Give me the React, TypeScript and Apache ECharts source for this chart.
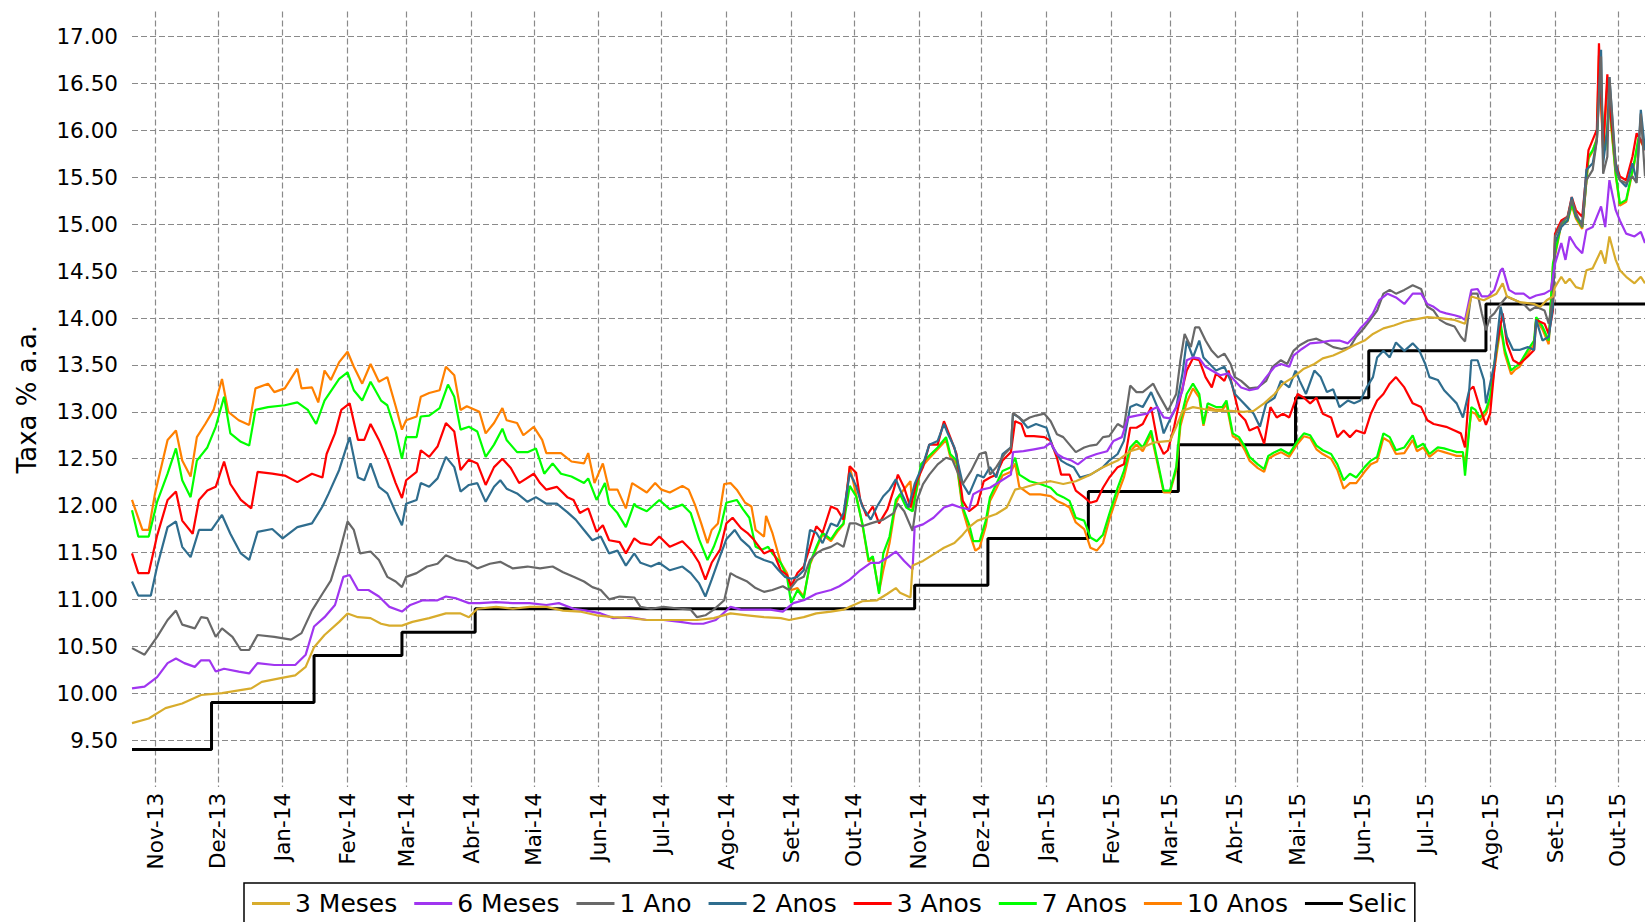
import React, { useEffect, useRef } from "react";
import * as echarts from "echarts";

// ---- Data (x = days since 2013-11-01, y = rate % a.a.) ----
type Pt = [number, number];

const seriesNames = ["3 Meses", "6 Meses", "1 Ano", "2 Anos", "3 Anos", "7 Anos", "10 Anos", "Selic"];
const monthNames = ["Jan", "Fev", "Mar", "Abr", "Mai", "Jun", "Jul", "Ago", "Set", "Out", "Nov", "Dez"];

const tenYears: Pt[] = [[-11,12.06],[-6,11.74],[-3,11.74],[0,12.13],[6,12.70],[10,12.80],[13,12.48],[17,12.31],[20,12.73],[24,12.87],[28,13.02],[32,13.35],[35,13.00],[40,12.91],[45,12.86],[48,13.25],[54,13.30],[57,13.21],[62,13.25],[68,13.46],[70,13.25],[75,13.26],[78,13.10],[81,13.44],[84,13.34],[88,13.53],[92,13.64],[95,13.48],[99,13.30],[103,13.51],[107,13.32],
[111,13.37],[115,13.06],[118,12.81],[120,12.91],[125,12.95],[127,13.16],[131,13.20],[136,13.23],[139,13.48],[143,13.39],[146,13.02],[149,13.06],[155,13.00],[158,12.77],[162,12.88],[166,13.04],[168,12.91],[173,12.88],[176,12.75],[181,12.84],[185,12.70],[187,12.56],[194,12.56],[199,12.47],[205,12.45],[207,12.56],[210,12.24],[214,12.45],[217,12.17],[221,12.17],[225,11.97],[228,12.24],
[235,12.14],[239,12.24],[242,12.17],[246,12.14],[252,12.21],[255,12.17],[258,12.01],[261,11.81],[264,11.60],[266,11.74],[269,11.81],[272,12.23],[275,12.24],[278,12.17],[282,12.03],[285,11.99],[287,11.74],[291,11.67],[292,11.89],[295,11.71],[299,11.39],[302,11.28],[304,11.10],[307,11.12],[310,11.03],[313,11.37],[316,11.54],[319,11.69],[323,11.62],[326,11.72],[329,11.80],[332,12.42],[335,12.12],[338,11.80],[341,11.40],[343,11.45],[346,11.08],[348,11.31],[351,11.60],[354,12.02],
[356,12.12],[361,12.26],[362,11.94],[366,12.40],[369,12.48],[374,12.60],[378,12.70],[380,12.52],[383,12.45],[386,11.95],[389,11.72],[392,11.52],[394,11.55],[397,11.78],[399,12.05],[402,12.18],[405,12.32],[409,12.36],[411,12.45],[413,12.20],[418,12.12],[423,12.12],[428,12.10],[431,12.05],[434,12.02],[437,11.98],[440,11.82],[444,11.75],[447,11.55],[450,11.52],[453,11.60],[456,11.85],[460,12.12],[463,12.30],[466,12.58],[469,12.65],[472,12.58],[476,12.76],
[479,12.45],[482,12.14],[485,12.14],[488,12.38],[490,12.85],[493,13.10],[496,13.25],[499,13.15],[501,12.85],[503,13.05],[507,13.02],[510,13.02],[512,13.08],[515,12.74],[518,12.70],[521,12.58],[523,12.48],[527,12.40],[530,12.36],[532,12.50],[535,12.54],[538,12.57],[542,12.52],[546,12.66],[549,12.74],[552,12.72],[555,12.60],[558,12.55],[562,12.50],[565,12.38],[568,12.18],[571,12.24],[574,12.24],[578,12.36],[581,12.44],[584,12.47],[587,12.72],[590,12.68],[593,12.55],[597,12.56],
[601,12.70],[603,12.58],[606,12.62],[609,12.52],[613,12.59],[616,12.57],[619,12.55],[622,12.53],[625,12.53],[626,12.45],[629,13.00],[631,12.98],[633,12.90],[636,12.98],[638,13.12],[640,13.45],[643,13.90],[645,13.62],[648,13.40],[650,13.45],[652,13.48],[656,13.62],[659,13.72],[660,13.98],[663,13.88],[666,13.72],[668,14.55],[672,15.00],[675,15.03],[677,15.20],[679,15.06],[682,14.95],[685,15.70],[687,15.78],[689,15.92],[690,16.80],[692,15.78],[694,16.50],[695,16.25],[698,15.52],[700,15.20],[703,15.24],[707,15.66],[709,15.92],[712,15.80]];

const sevenYears: Pt[] = [[-11,11.95],[-8,11.67],[-3,11.67],[1,12.04],[6,12.34],[10,12.61],[13,12.27],[17,12.09],[20,12.48],[25,12.62],[29,12.84],[33,13.16],[36,12.77],[41,12.68],[45,12.64],[48,13.02],[54,13.05],[62,13.07],[68,13.10],[73,13.02],[77,12.87],[81,13.12],[88,13.35],[92,13.42],[95,13.23],[99,13.12],[103,13.32],[108,13.12],
[111,13.07],[115,12.79],[118,12.50],[120,12.73],[125,12.73],[127,12.95],[131,12.96],[136,13.04],[140,13.29],[143,13.16],[146,12.81],[150,12.84],[154,12.79],[158,12.52],[162,12.65],[166,12.82],[168,12.70],[173,12.57],[178,12.57],[182,12.61],[186,12.34],[190,12.45],[194,12.34],[199,12.31],[205,12.24],[207,12.29],[211,12.06],[215,12.24],[217,12.02],[221,11.92],[225,11.77],[229,12.02],
[230,11.99],[235,11.94],[241,12.06],[246,11.96],[252,12.01],[256,11.92],[260,11.64],[264,11.42],[267,11.56],[270,11.74],[273,12.03],[278,12.06],[281,11.96],[284,11.87],[287,11.56],[290,11.53],[293,11.56],[295,11.49],[299,11.39],[302,11.24],[304,10.96],[307,11.10],[310,11.01],[313,11.39],[316,11.56],[319,11.71],[323,11.64],[326,11.74],[329,11.81],[332,12.21],[335,12.10],[338,11.81],[341,11.42],[343,11.46],[346,11.06],[348,11.49],[351,11.67],[354,12.06],
[356,12.12],[359,11.98],[362,11.94],[366,12.44],[369,12.51],[374,12.62],[378,12.73],[380,12.55],[383,12.48],[386,11.98],[389,11.80],[391,11.62],[394,11.62],[397,11.84],[399,12.09],[402,12.23],[405,12.37],[409,12.41],[411,12.51],[413,12.33],[418,12.26],[423,12.23],[428,12.19],[431,12.12],[434,12.09],[437,12.05],[440,11.87],[444,11.84],[447,11.66],[450,11.62],[453,11.69],[456,11.91],[460,12.19],[463,12.37],[466,12.62],[469,12.69],[472,12.62],[476,12.80],
[479,12.48],[482,12.16],[485,12.16],[488,12.41],[490,12.91],[493,13.19],[496,13.30],[499,13.19],[501,12.87],[503,13.09],[507,13.05],[510,13.05],[512,13.12],[515,12.77],[518,12.73],[521,12.62],[523,12.52],[527,12.44],[530,12.39],[532,12.53],[535,12.57],[538,12.60],[542,12.55],[546,12.69],[549,12.77],[552,12.75],[555,12.64],[558,12.59],[562,12.55],[565,12.44],[568,12.27],[571,12.34],[574,12.30],[578,12.41],[581,12.48],[584,12.52],[587,12.77],[590,12.73],[593,12.59],[597,12.62],
[601,12.75],[603,12.62],[606,12.66],[609,12.55],[613,12.62],[616,12.61],[619,12.59],[622,12.57],[625,12.57],[626,12.32],[629,13.05],[631,13.02],[633,12.94],[636,13.02],[638,13.16],[640,13.51],[643,13.94],[645,13.66],[648,13.44],[650,13.48],[652,13.51],[656,13.66],[659,13.76],[660,14.01],[663,13.91],[666,13.76],[668,14.58],[672,15.01],[675,15.04],[677,15.22],[679,15.08],[682,14.97],[685,15.72],[687,15.79],[689,15.90],[690,16.60],[693,15.79],[695,16.29],[698,15.54],[700,15.22],[703,15.26],[707,15.68],[709,15.93],[712,15.83]];

const threeYears: Pt[] = [[-11,11.49],[-8,11.28],[-3,11.28],[1,11.68],[6,12.06],[10,12.15],[13,11.84],[18,11.70],[21,12.06],[25,12.16],[29,12.20],[33,12.47],[36,12.23],[41,12.06],[46,11.97],[49,12.36],[56,12.34],[62,12.32],[68,12.25],[75,12.34],[80,12.30],[82,12.55],[86,12.77],[89,13.02],[93,13.09],[97,12.70],[100,12.70],[103,12.87],[107,12.70],
[111,12.49],[115,12.24],[118,12.08],[120,12.27],[125,12.36],[127,12.59],[131,12.52],[135,12.63],[139,12.88],[143,12.79],[146,12.38],[150,12.49],[154,12.45],[158,12.22],[162,12.41],[166,12.50],[170,12.40],[174,12.24],[181,12.34],[184,12.24],[187,12.17],[192,12.20],[197,12.09],[200,12.06],[203,11.92],[207,11.97],[211,11.72],[214,11.79],[217,11.63],[222,11.61],[225,11.49],[229,11.65],
[232,11.60],[237,11.58],[241,11.67],[246,11.56],[252,11.62],[256,11.53],[260,11.39],[263,11.21],[266,11.39],[270,11.53],[273,11.81],[276,11.87],[280,11.76],[283,11.71],[286,11.64],[291,11.49],[295,11.53],[299,11.31],[302,11.26],[304,11.14],[307,11.28],[310,11.35],[313,11.56],[316,11.78],[319,11.71],[323,11.99],[326,11.96],[329,11.85],[332,12.42],[335,12.35],[337,12.06],[340,11.89],[343,11.99],[346,11.81],[350,11.96],[353,12.17],[355,12.33],
[358,12.19],[361,11.98],[364,12.26],[367,12.41],[370,12.65],[374,12.65],[377,12.90],[380,12.73],[383,12.55],[386,12.05],[389,11.94],[393,12.01],[396,12.26],[399,12.30],[402,12.33],[405,12.48],[409,12.57],[411,12.90],[414,12.87],[416,12.74],[420,12.74],[425,12.73],[428,12.69],[431,12.51],[433,12.33],[437,12.33],[440,12.16],[444,12.09],[447,12.03],[450,12.05],[453,12.19],[456,12.30],[460,12.41],[463,12.44],[466,12.83],[469,12.83],[472,12.87],[476,13.05],
[479,12.69],[482,12.55],[484,12.59],[487,12.84],[490,13.16],[493,13.44],[496,13.57],[499,13.55],[502,13.37],[505,13.26],[507,13.41],[511,13.33],[513,13.44],[515,13.26],[518,12.98],[521,12.91],[523,12.80],[527,12.84],[530,12.66],[533,13.05],[536,12.94],[539,12.98],[542,12.94],[546,13.19],[549,13.15],[552,13.09],[555,13.15],[558,12.98],[562,12.94],[565,12.73],[568,12.80],[571,12.73],[574,12.80],[578,12.77],[581,12.98],[584,13.12],[587,13.19],[590,13.30],[593,13.37],[597,13.26],
[601,13.09],[605,13.05],[608,12.91],[611,12.87],[617,12.84],[621,12.80],[624,12.77],[626,12.62],[628,13.23],[630,13.27],[633,13.05],[636,12.86],[638,12.98],[641,13.69],[644,14.05],[646,13.73],[649,13.55],[652,13.51],[656,13.59],[659,13.66],[660,13.98],[664,13.94],[666,13.83],[668,14.08],[669,14.90],[672,15.04],[675,15.08],[677,15.29],[679,15.15],[682,15.08],[685,15.79],[687,15.90],[689,16.01],[690,16.93],[692,15.79],[694,16.60],[695,16.29],[698,15.65],[700,15.51],[703,15.47],[706,15.72],[708,15.97],[710,15.90],[712,15.79]];

const twoYears: Pt[] = [[-11,11.19],[-8,11.04],[-2,11.04],[1,11.35],[6,11.77],[10,11.83],[13,11.56],[17,11.45],[21,11.74],[27,11.74],[32,11.90],[36,11.70],[41,11.49],[45,11.42],[49,11.72],[56,11.75],[61,11.65],[68,11.77],[75,11.81],[80,11.99],[83,12.13],[88,12.38],[93,12.73],[97,12.30],[100,12.27],[103,12.45],[107,12.20],
[111,12.13],[115,11.93],[118,11.79],[120,12.02],[125,12.06],[127,12.24],[131,12.20],[135,12.29],[139,12.52],[143,12.41],[146,12.15],[150,12.22],[154,12.24],[158,12.04],[162,12.20],[165,12.27],[168,12.18],[173,12.13],[178,12.04],[182,12.09],[187,12.02],[192,12.02],[197,11.93],[201,11.85],[205,11.74],[209,11.63],[213,11.67],[217,11.49],[221,11.52],[225,11.36],[229,11.49],
[232,11.39],[237,11.35],[241,11.39],[246,11.31],[252,11.35],[256,11.28],[260,11.17],[263,11.03],[266,11.21],[270,11.46],[273,11.64],[277,11.74],[280,11.64],[284,11.56],[287,11.46],[291,11.42],[295,11.39],[298,11.31],[301,11.24],[304,11.22],[307,11.24],[310,11.31],[313,11.74],[316,11.71],[319,11.60],[323,11.81],[326,11.78],[329,11.92],[332,12.35],[335,12.21],[338,11.99],[342,11.85],[345,11.99],[348,12.10],[351,12.17],[354,12.28],
[357,12.12],[360,11.98],[363,12.23],[367,12.44],[370,12.65],[374,12.69],[377,12.87],[379,12.76],[382,12.62],[386,12.23],[389,12.12],[393,12.33],[396,12.30],[399,12.41],[402,12.30],[405,12.55],[409,12.62],[410,12.98],[413,12.94],[417,12.83],[421,12.87],[426,12.83],[429,12.62],[433,12.48],[436,12.44],[439,12.41],[442,12.30],[447,12.33],[450,12.37],[453,12.41],[456,12.48],[460,12.55],[463,12.69],[466,13.05],[469,13.08],[472,13.05],[476,13.21],
[479,13.05],[482,12.77],[484,12.87],[488,13.05],[491,13.41],[493,13.76],[496,13.58],[499,13.76],[501,13.58],[504,13.51],[507,13.44],[511,13.48],[514,13.33],[516,13.19],[519,13.12],[522,13.05],[525,12.98],[528,12.84],[531,13.09],[535,13.15],[538,13.33],[542,13.26],[545,13.44],[547,13.33],[550,13.19],[554,13.44],[557,13.37],[560,13.21],[563,13.24],[566,13.05],[570,13.12],[573,13.09],[576,13.12],[579,13.26],[582,13.37],[584,13.58],[587,13.65],[590,13.58],[593,13.74],[597,13.65],
[601,13.73],[604,13.66],[607,13.51],[609,13.37],[613,13.34],[616,13.23],[619,13.16],[622,13.09],[625,12.94],[628,13.23],[629,13.55],[632,13.55],[635,13.34],[636,13.09],[640,13.51],[643,14.12],[646,13.80],[649,13.66],[652,13.66],[656,13.69],[659,13.66],[660,13.98],[663,13.76],[666,13.80],[668,14.12],[669,14.80],[672,14.97],[675,15.04],[677,15.29],[679,15.08],[682,15.01],[684,15.58],[687,15.65],[689,15.90],[691,16.86],[692,15.65],[694,16.01],[695,16.57],[698,15.65],[700,15.47],[703,15.40],[706,15.65],[708,15.47],[710,16.22],[712,15.79]];

const oneYear: Pt[] = [[-11,10.48],[-5,10.41],[1,10.60],[6,10.78],[10,10.88],[13,10.73],[19,10.69],[22,10.81],[25,10.80],[29,10.60],[32,10.69],[37,10.60],[41,10.46],[45,10.46],[49,10.62],[57,10.60],[65,10.57],[70,10.64],[75,10.88],[80,11.06],[84,11.20],[88,11.49],[92,11.83],[95,11.74],[98,11.49],[103,11.51],[107,11.42],
[111,11.24],[115,11.19],[118,11.13],[120,11.24],[125,11.28],[130,11.35],[135,11.38],[139,11.47],[144,11.42],[149,11.40],[154,11.33],[160,11.38],[165,11.40],[171,11.33],[178,11.35],[184,11.33],[190,11.35],[195,11.29],[200,11.24],[205,11.19],[209,11.13],[213,11.10],[217,11.00],[222,11.03],[229,11.02],
[232,10.92],[237,10.90],[243,10.92],[251,10.90],[256,10.89],[259,10.81],[263,10.83],[267,10.89],[272,10.99],[275,11.28],[278,11.24],[283,11.19],[287,11.12],[291,11.08],[295,11.10],[300,11.14],[303,11.10],[307,11.21],[310,11.24],[313,11.42],[316,11.49],[319,11.53],[323,11.56],[326,11.60],[329,11.56],[332,11.81],[335,11.81],[338,11.78],[342,11.81],[348,11.85],[353,11.92],
[355,12.02],[358,11.94],[362,11.73],[364,12.05],[367,12.23],[370,12.33],[374,12.44],[378,12.51],[381,12.49],[384,12.33],[386,12.23],[390,12.37],[394,12.55],[397,12.57],[399,12.33],[402,12.41],[406,12.55],[409,12.62],[410,12.99],[415,12.90],[418,12.94],[421,12.96],[425,12.98],[428,12.90],[431,12.76],[434,12.73],[437,12.65],[440,12.57],[444,12.62],[447,12.64],[450,12.65],[453,12.73],[456,12.74],[460,12.87],[463,12.83],[466,13.28],[469,13.21],[472,13.21],[477,13.30],
[479,13.21],[482,13.09],[484,13.01],[488,13.19],[490,13.55],[492,13.83],[495,13.69],[497,13.90],[499,13.90],[502,13.76],[505,13.65],[508,13.58],[511,13.62],[514,13.51],[516,13.37],[519,13.33],[523,13.25],[527,13.26],[531,13.33],[534,13.48],[538,13.55],[541,13.51],[544,13.65],[547,13.71],[551,13.76],[555,13.78],[559,13.74],[563,13.69],[567,13.67],[571,13.69],[574,13.80],[578,13.90],[581,13.99],[584,14.08],[587,14.26],[590,14.30],[593,14.26],[597,14.30],
[601,14.35],[605,14.31],[608,14.12],[611,14.08],[614,13.98],[617,13.94],[621,13.91],[624,13.80],[626,13.75],[629,14.26],[632,14.26],[634,14.05],[636,13.87],[638,14.01],[640,14.05],[643,14.15],[646,14.23],[650,14.19],[654,14.15],[657,14.08],[660,14.12],[664,14.08],[666,13.94],[668,14.23],[669,14.87],[672,15.01],[675,15.08],[677,15.26],[679,15.12],[682,14.97],[684,15.47],[687,15.58],[689,15.90],[691,16.79],[692,15.54],[694,15.72],[695,16.57],[698,15.58],[700,15.47],[703,15.44],[706,15.51],[708,15.44],[710,16.18],[712,15.51]];

const sixMonths: Pt[] = [[-11,10.05],[-5,10.07],[1,10.17],[6,10.32],[10,10.37],[14,10.32],[19,10.28],[22,10.35],[26,10.35],[29,10.23],[33,10.26],[40,10.23],[45,10.21],[49,10.32],[57,10.30],[67,10.30],[72,10.41],[76,10.71],[81,10.81],[86,10.94],[90,11.24],[93,11.26],[97,11.10],[102,11.10],[107,11.03],
[112,10.92],[118,10.87],[122,10.94],[128,10.99],[135,10.99],[139,11.03],[144,11.01],[150,10.96],[155,10.96],[163,10.97],[171,10.96],[179,10.96],[187,10.94],[193,10.96],[200,10.90],[206,10.88],[213,10.85],[219,10.80],[227,10.81],
[235,10.78],[243,10.78],[251,10.76],[257,10.74],[262,10.74],[268,10.78],[275,10.92],[280,10.89],[286,10.89],[294,10.89],[300,10.87],[305,10.96],[310,10.99],[316,11.06],[323,11.10],[327,11.14],[332,11.21],[337,11.31],[342,11.39],[346,11.39],[351,11.46],[354,11.51],
[358,11.41],[362,11.32],[363,11.77],[367,11.80],[372,11.87],[377,11.98],[381,12.01],[385,11.98],[389,11.96],[391,12.12],[395,12.17],[399,12.19],[404,12.26],[409,12.33],[410,12.57],[415,12.58],[420,12.60],[425,12.62],[428,12.67],[431,12.55],[434,12.51],[438,12.48],[441,12.44],[445,12.51],[450,12.55],[455,12.58],[458,12.69],[462,12.73],[465,12.94],[469,12.96],[474,12.98],[477,13.03],
[479,13.05],[482,12.94],[485,12.93],[488,13.05],[491,13.23],[493,13.55],[496,13.58],[499,13.57],[502,13.48],[505,13.44],[509,13.39],[513,13.41],[516,13.33],[519,13.26],[523,13.23],[527,13.25],[531,13.37],[535,13.48],[538,13.51],[542,13.48],[544,13.60],[548,13.67],[552,13.73],[557,13.74],[562,13.76],[566,13.76],[570,13.73],[573,13.80],[576,13.89],[579,13.96],[582,14.05],[585,14.19],[589,14.26],[593,14.22],[597,14.15],
[601,14.26],[605,14.26],[608,14.15],[611,14.12],[614,14.07],[617,14.05],[621,14.03],[624,14.01],[626,13.98],[629,14.30],[632,14.31],[634,14.23],[637,14.23],[640,14.30],[643,14.51],[644,14.53],[647,14.30],[650,14.26],[654,14.26],[657,14.21],[660,14.24],[664,14.26],[667,14.30],[669,14.58],[672,14.80],[674,14.62],[676,14.87],[679,14.76],[682,14.69],[684,14.94],[687,14.97],[691,15.19],[693,14.97],[695,15.47],[698,15.15],[700,15.04],[703,14.90],[707,14.87],[710,14.92],[712,14.80]];

const threeMonths: Pt[] = [[-11,9.68],[-3,9.73],[5,9.84],[13,9.89],[22,9.98],[32,10.00],[40,10.03],[46,10.05],[51,10.12],[60,10.16],[67,10.19],[72,10.28],[76,10.49],[81,10.62],[88,10.76],[92,10.85],[97,10.81],[103,10.80],[108,10.74],
[112,10.72],[118,10.72],[123,10.76],[131,10.80],[139,10.85],[146,10.85],[150,10.81],[154,10.90],[163,10.92],[171,10.90],[179,10.92],[187,10.92],[195,10.88],[203,10.87],[211,10.83],[219,10.81],[227,10.80],
[235,10.78],[243,10.78],[251,10.78],[259,10.78],[267,10.80],[275,10.85],[283,10.83],[291,10.81],[299,10.80],[303,10.78],[310,10.81],[316,10.85],[323,10.87],[329,10.89],[332,10.92],[338,10.98],[345,10.99],[350,11.06],[354,11.12],
[356,11.07],[361,11.02],[362,11.36],[367,11.41],[372,11.48],[377,11.55],[382,11.60],[386,11.69],[389,11.77],[393,11.84],[397,11.87],[402,11.91],[407,11.98],[411,12.17],[415,12.19],[421,12.23],[428,12.26],[434,12.23],[440,12.26],[447,12.33],[453,12.41],[460,12.48],[466,12.58],[472,12.62],[477,12.67],
[480,12.68],[485,12.69],[488,12.84],[491,13.01],[496,13.05],[501,13.03],[507,13.01],[514,13.01],[520,13.00],[525,13.01],[530,13.09],[535,13.19],[539,13.30],[544,13.37],[549,13.46],[554,13.51],[558,13.57],[563,13.60],[568,13.65],[573,13.71],[578,13.76],[582,13.83],[587,13.89],[592,13.92],[597,13.96],
[601,13.98],[608,14.01],[614,14.00],[621,13.98],[626,13.94],[629,14.23],[635,14.19],[641,14.26],[644,14.37],[646,14.23],[652,14.17],[659,14.15],[662,14.12],[665,14.19],[668,14.23],[669,14.33],[672,14.44],[674,14.37],[676,14.42],[679,14.33],[682,14.31],[684,14.51],[687,14.53],[691,14.72],[693,14.58],[695,14.87],[698,14.62],[700,14.51],[703,14.44],[707,14.37],[710,14.44],[712,14.37]];

// Selic (effective), value starting at each change day
const selic: Pt[] = [[-11,9.40],[27,9.90],[76,10.40],[118,10.65],[153,10.90],[363,11.15],[398,11.65],[446,12.15],[489,12.65],[545,13.15],[580,13.65],[636,14.15],[712,14.15]];

const seriesColors = ["#d8ac2c", "#a035f0", "#686868", "#2f6d8e", "#ff0000", "#00ff00", "#ff8000", "#000000"];

// ---- Axis categories: every day from 2013-10-21 (day -11) to 2015-10-14 (day 712) ----
const FIRST_DAY = -11;
const LAST_DAY = 712;
const DAY_MS = 86400000;
const START_UTC = Date.UTC(2013, 9, 21);
const categories: string[] = Array.from({ length: LAST_DAY - FIRST_DAY + 1 }, (_, i) =>
  new Date(START_UTC + i * DAY_MS).toISOString().slice(0, 10)
);

const isMonthStart = (_i: number, v: string) => v.slice(8, 10) === "01";
const monthLabel = (v: string) => monthNames[parseInt(v.slice(5, 7), 10) - 1] + "-" + v.slice(2, 4);
const toIdx = (pts: Pt[]) => pts.map(([d, v]) => [d - FIRST_DAY, v]);

const FONT = "DejaVu Sans, Bitstream Vera Sans, sans-serif";
const gridLine = { color: "#8a8a8a", type: [6, 3] as number[], width: 1.2 };

export default function App() {
  const ref = useRef<HTMLDivElement>(null);
  useEffect(() => {
    if (!ref.current) return;
    const chart = echarts.init(ref.current, undefined, { renderer: "svg" });
    const dataByName: Record<string, Pt[]> = {
      "3 Meses": threeMonths,
      "6 Meses": sixMonths,
      "1 Ano": oneYear,
      "2 Anos": twoYears,
      "3 Anos": threeYears,
      "7 Anos": sevenYears,
      "10 Anos": tenYears,
      Selic: selic,
    };
    // draw order: Selic at the bottom, 3 Meses on top
    const order = [...seriesNames].reverse();
    const series = order.map((name) => {
      const i = seriesNames.indexOf(name);
      const isSelic = name === "Selic";
      return {
        name,
        type: "line",
        data: toIdx(dataByName[name]),
        step: isSelic ? "end" : undefined,
        showSymbol: false,
        symbol: "none",
        color: seriesColors[i],
        itemStyle: { color: seriesColors[i] },
        lineStyle: { color: seriesColors[i], width: isSelic ? 3 : 2.2 },
        emphasis: { disabled: true },
      };
    });
    chart.setOption({
      animation: false,
      backgroundColor: "#ffffff",
      textStyle: { fontFamily: FONT },
      grid: { left: 132, right: 0, top: 11.4, bottom: 135.1, containLabel: false },
      xAxis: {
        type: "category",
        data: categories,
        boundaryGap: false,
        axisLine: { show: false },
        axisTick: { show: false },
        axisLabel: {
          interval: isMonthStart,
          rotate: 90,
          margin: 6,
          formatter: (v: string) => monthLabel(v),
          fontSize: 21.5,
          color: "#000",
          fontFamily: FONT,
        },
        splitLine: { show: true, interval: isMonthStart, lineStyle: gridLine },
      },
      yAxis: {
        type: "value",
        min: 9,
        max: 17.27,
        interval: 0.5,
        name: "Taxa % a.a.",
        nameLocation: "middle",
        nameRotate: 90,
        nameGap: 92,
        nameTextStyle: { fontSize: 26, color: "#000", fontFamily: FONT },
        axisLine: { show: false },
        axisTick: { show: false },
        axisLabel: {
          formatter: (v: number) => v.toFixed(2),
          fontSize: 21.5,
          color: "#000",
          margin: 14,
          showMinLabel: false,
          showMaxLabel: false,
          fontFamily: FONT,
        },
        splitLine: { show: true, showMinLine: false, showMaxLine: false, lineStyle: gridLine },
      },
      legend: {
        data: seriesNames,
        left: 244,
        top: 883,
        orient: "horizontal",
        icon: "rect",
        itemWidth: 38,
        itemHeight: 3,
        itemGap: 17,
        padding: [8, 8, 8, 8],
        borderColor: "#000",
        borderWidth: 1.5,
        borderRadius: 0,
        backgroundColor: "#fff",
        textStyle: { fontSize: 25, color: "#000", fontFamily: FONT },
        selectedMode: false,
      },
      series,
    });
    return () => chart.dispose();
  }, []);
  return (
    <div
      ref={ref}
      style={{ position: "fixed", left: 0, top: 0, width: 1645, height: 922, background: "#fff" }}
    />
  );
}
